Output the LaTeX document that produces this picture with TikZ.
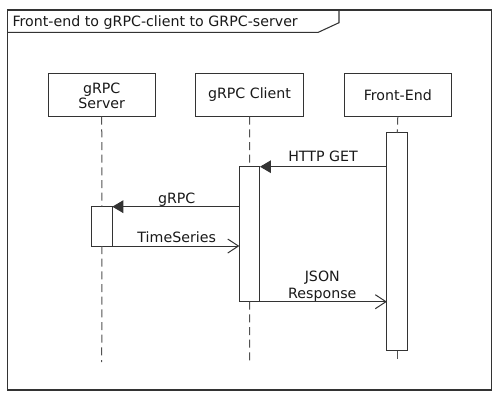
\documentclass[tikz,border=0pt]{standalone}
\usepackage{fontspec}
\setmainfont{DejaVu Sans}
\usetikzlibrary{arrows.meta}
\definecolor{ink}{HTML}{333333}
\tikzset{
  px/.style={x=0.75pt,y=-0.75pt},
  every node/.style={font=\fontsize{10.65}{12}\selectfont, text=black!90},
  frameline/.style={draw=ink, line width=1.1pt},
  actor/.style={draw=ink, line width=0.75pt, fill=white, minimum width=80.5pt, minimum height=32.5pt, inner sep=0pt, outer sep=0pt, align=center},
  actbar/.style={draw=ink, line width=0.75pt, fill=white, minimum width=15.5pt, inner sep=0pt, outer sep=0pt},
  lifeline/.style={draw=ink!85, line width=0.75pt, dash pattern=on 6pt off 3.5pt},
  syncmsg/.style={draw=ink, line width=0.75pt, -{Triangle[length=8.25pt,width=9.5pt]}},
  replymsg/.style={draw=ink, line width=0.75pt, -{Straight Barb[length=8pt,width=10.5pt]}},
  msglabel/.style={anchor=base, inner sep=0pt, align=center},
}
\begin{document}
\begin{tikzpicture}[px]
\useasboundingbox (0,0) rectangle (500,401);
\fill[white] (0,0) rectangle (500,401);
% frame
\draw[frameline] (7.3,10) rectangle (491.7,390);
\draw[ink, line width=0.8pt] (7.3,32.3) -- (318.3,32.3) -- (339,22.7) -- (339,10);
\node[anchor=base west, inner sep=0pt] (title) at (12.3,26) {Front-end to gRPC-client to GRPC-server};
% actors
\node[actor] (srv) at (101.7,95) {};
\node[anchor=base, inner sep=0pt] (srvl1) at (101.7,93.3) {gRPC};
\node[anchor=base, inner sep=0pt] (srvl2) at (101.7,108.3) {Server};
\node[actor] (cl) at (249.5,95) {gRPC Client};
\node[actor] (fe) at (397.8,95) {Front-End};
% lifeline end points
\coordinate (srvend) at (101.7,362);
\coordinate (clend) at (249.7,362);
\coordinate (feend) at (397.2,359);
% activation bars
\node[actbar, minimum height=101.25pt] (clact) at (249.65,234.2) {};
\node[actbar, minimum height=29.5pt] (sract) at (102,226.35) {};
\node[actbar, minimum height=163.3pt] (feact) at (397.2,241.85) {};
% lifelines
\draw[lifeline] (srv.south) -- (sract.north);
\draw[lifeline] (sract.south) -- (srvend);
\draw[lifeline] (cl.south) -- (clact.north);
\draw[lifeline] (clact.south) -- (clend);
\draw[lifeline] (fe.south) -- (feact.north);
\draw[lifeline] (feact.south) -- (feend);
% messages
\draw[syncmsg] (feact.west |- clact.north) -- (clact.north east);
\draw[syncmsg] (clact.west |- sract.north) -- (sract.north east);
\draw[replymsg] (sract.south east) -- (clact.west |- sract.south);
\draw[replymsg] (clact.south east) -- (feact.west |- clact.south);
% labels
\node[msglabel] (l1) at (323,161.7) {HTTP GET};
\node[msglabel] (l2) at (176.7,203.3) {gRPC};
\node[msglabel] (l3) at (176.7,242.3) {TimeSeries};
\node[msglabel] (l4a) at (322.3,281.7) {JSON};
\node[msglabel] (l4b) at (322.3,298.3) {Response};
\end{tikzpicture}
\end{document}
